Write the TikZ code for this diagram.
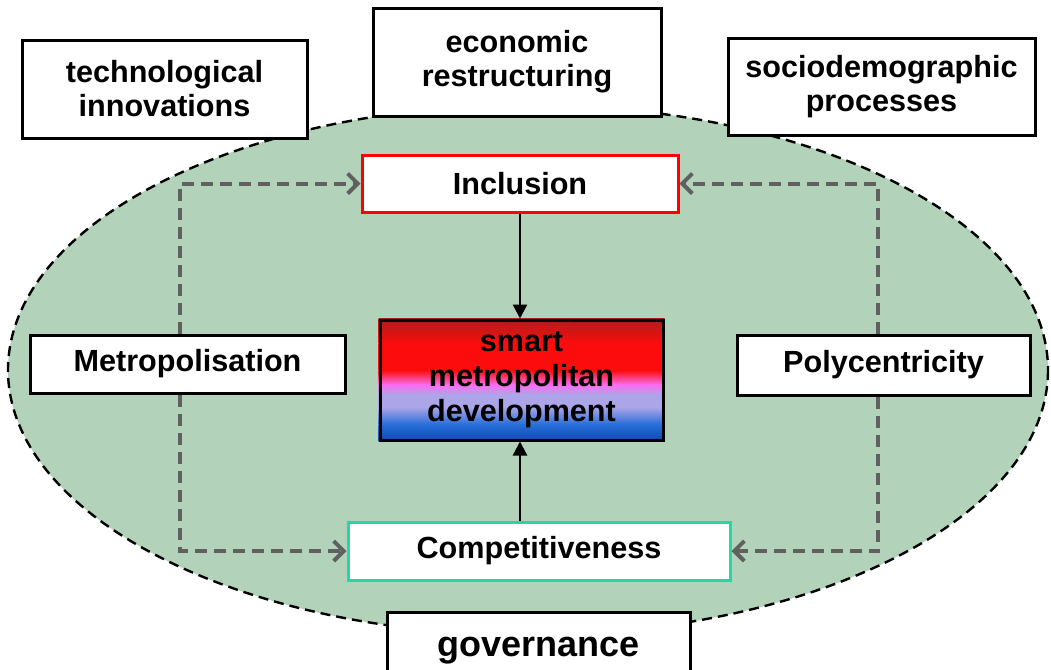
\documentclass[tikz,border=0pt]{standalone}
\usepackage{fontspec}
\setmainfont{Liberation Sans}
\usetikzlibrary{arrows.meta,positioning,calc,backgrounds}
\definecolor{ellgreen}{RGB}{178,211,186}
\definecolor{arrgray}{RGB}{96,96,96}
\definecolor{compteal}{RGB}{40,214,160}
\definecolor{sdkred}{RGB}{170,30,30}
\definecolor{sred}{RGB}{252,12,12}
\definecolor{spink}{RGB}{250,110,240}
\definecolor{slav}{RGB}{172,166,232}
\definecolor{sblue}{RGB}{40,110,216}
\definecolor{sdkblue}{RGB}{14,70,180}
\begin{document}
\begin{tikzpicture}[x=0.5pt,y=-0.5pt,
    lbl/.style={draw=black, line width=1.5pt, fill=white, align=center, inner sep=0pt,
      font=\bfseries\fontsize{15.3}{17}\selectfont},
    dasharr/.style={draw=arrgray, line width=2pt, dash pattern=on 6pt off 3.5pt,
      -{Straight Barb[length=5pt,width=10pt,line width=2pt]}},
    solarr/.style={line width=1.2pt, -{Triangle[length=7pt,width=7pt]}}]
  \useasboundingbox (0,0) rectangle (1051,670);
  \begin{scope}[on background layer]
  \path[fill=ellgreen, draw=black, line width=1.2pt, dash pattern=on 5pt off 3pt]
    (528,370) ellipse [x radius=520, y radius=265];
  \end{scope}

  \node[lbl, minimum width=142.5pt, minimum height=49pt] (tech) at (164.5,89)
    {technological\\innovations};
  \node[lbl, minimum width=144pt, minimum height=54pt] (econ) at (517,62)
    {economic\\restructuring};
  \node[lbl, minimum width=153.5pt, minimum height=48.5pt] (socio) at (881.5,86.5)
    {sociodemographic\\processes};
  \node[lbl, draw=red, minimum width=158pt, minimum height=28.5pt] (incl) at (520,183.5)
    {Inclusion};
  \node[lbl, minimum width=157.5pt, minimum height=29pt] (metro) at (187.5,364)
    {Metropolisation};
  \node[lbl, minimum width=146.5pt, minimum height=30pt] (poly) at (883.5,365)
    {Polycentricity};
  \node[lbl, fill=none, minimum width=141.5pt, minimum height=60pt,
    font=\bfseries\fontsize{15.3}{17.5}\selectfont] (smd) at (521.5,380)
    {smart\\metropolitan\\development};
  \node[lbl, draw=compteal, minimum width=191pt, minimum height=29pt] (comp) at (539,551)
    {Competitiveness};
  \node[lbl, minimum width=151.5pt, minimum height=39pt,
    font=\bfseries\fontsize{18}{20}\selectfont] (gov) at (538.5,651) {governance};

  % colour bands of the centre box
  \begin{scope}[on background layer]
  \foreach \a/\b/\ca/\cb in {0/0.2/sdkred/sred, 0.2/0.42/sred/sred, 0.42/0.54/sred/spink,
      0.54/0.62/spink/slav, 0.62/0.72/slav/slav, 0.72/0.86/slav/sblue, 0.86/1/sblue/sdkblue}
    \shade[top color=\ca, bottom color=\cb] ($(smd.north west)!\a!(smd.south west)$)
      rectangle ($(smd.north east)!\b!(smd.south east)$);
  \end{scope}

  \draw[dasharr] ([xshift=-3.75pt]metro.north) |- (incl.west);
  \draw[dasharr] ([xshift=-3.75pt]metro.south) |- (comp.west);
  \draw[dasharr] ([xshift=-2.75pt]poly.north) |- (incl.east);
  \draw[dasharr] ([xshift=-2.75pt]poly.south) |- (comp.east);
  \draw[solarr] (incl.south) -- (incl.south |- smd.north);
  \draw[solarr] (comp.north -| incl.south) -- (smd.south -| incl.south);
\end{tikzpicture}
\end{document}
